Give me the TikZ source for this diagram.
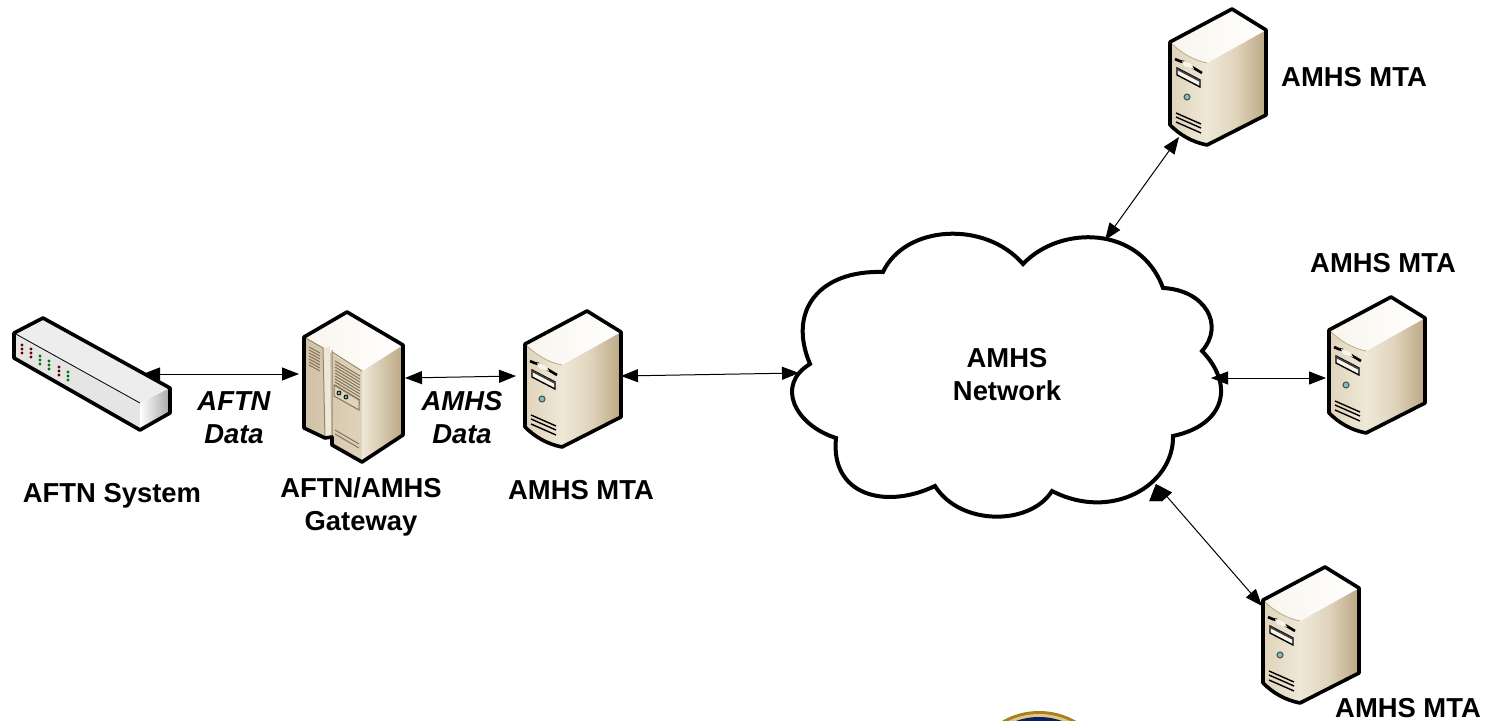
\documentclass[tikz,border=0pt]{standalone}
\usepackage{fontspec}
\setmainfont{Liberation Sans}
\usetikzlibrary{arrows.meta}
\definecolor{edgeblack}{HTML}{000000}
\definecolor{boxlight}{HTML}{F8F5EC}
\definecolor{boxpale}{HTML}{EFE8D8}
\definecolor{boxmid}{HTML}{DFD3BA}
\definecolor{boxdark}{HTML}{BBA783}
\definecolor{sealgold}{HTML}{A87F1C}
\definecolor{sealpale}{HTML}{DCC987}
\definecolor{sealnavy}{HTML}{0B1F5E}
\tikzset{
	outline/.style={line width=1.8pt,line join=round,draw=edgeblack},
	caption/.style={font=\bfseries\fontsize{13.7}{16.5}\selectfont,align=center,inner sep=0pt},
	flowlabel/.style={font=\bfseries\itshape\fontsize{13.7}{16.5}\selectfont,align=center,inner sep=0pt},
	link/.style={<->,line width=.5pt},
	mtabox/.pic={
		\path[left color=boxmid,right color=boxpale] (0,0) .. controls (10,10) and (22,18) .. (37,21) -- (37,103) .. controls (22,100) and (10,93) .. (0,83) -- cycle;
		\path[left color=boxpale,right color=boxdark,middle color=boxmid] (37,21) -- (96,-12) -- (96,73) -- (37,103) -- cycle;
		\path[left color=boxlight,right color=white] (0,0) -- (62,-33) -- (96,-12) -- (37,21) .. controls (22,18) and (10,10) .. (0,0) -- cycle;
		\draw[line width=.4pt,draw=boxdark] (0,0) .. controls (10,10) and (22,18) .. (37,21);
		\draw[line width=1.3pt] (5,17) .. controls (9,19) and (12,20) .. (14,20) (22,25) -- (32,31);
		\fill[boxlight] (12,19) -- (21,22) -- (24,27) -- (14,24) -- cycle;
		\draw[line width=.7pt,fill=boxlight] (7,26) -- (30,38) -- (30,45) -- (7,33) -- cycle;
		\fill[black!75] (7,26) -- (30,38) -- (30,40) -- (7,28) -- cycle;
		\draw[line width=.5pt,draw=black!70,fill=teal!50!white] (17,55) circle (3);
		\draw[line width=.7pt] (6,71) -- (31,82) (6,75) -- (31,86) (6,80) -- (31,91);
		\draw[outline] (0,0) -- (62,-33) -- (96,-12) -- (96,73) -- (37,103) .. controls (22,100) and (10,93) .. (0,83) -- cycle;
	},
}
\begin{document}
\begin{tikzpicture}[x=.5pt,y=-.5pt,>={Triangle[length=8.5pt,width=6.5pt]}]
	\useasboundingbox (0,0) rectangle (1486,721);

	% seal cut by the page
	\begin{scope}
		\clip (0,0) rectangle (1486,721);
		\fill[sealgold] (1039,785) circle (74);
		\fill[sealpale] (1039,785) circle (71);
		\fill[sealnavy] (1039,785) circle (68);
	\end{scope}

	% AFTN system
	\path[fill=white!93!black] (14,333) -- (43,318) -- (170,388) -- (140,403) -- cycle;
	\path[fill=white!90!black] (14,333) -- (140,403) -- (140,430) -- (14,358) -- cycle;
	\path[left color=white,right color=white!65!black] (140,403) -- (170,388) -- (170,413) -- (140,430) -- cycle;
	\draw[line width=.4pt] (14,333) -- (140,403);
	\foreach \ledx/\ledy/\ledc in {22/345/red!40!black,31/349/red!40!black,40/356/green!45!black,49/361/green!45!black,59/367/red!40!black,68/372/green!45!black}
		\foreach \ledn in {0,1,2}
			\fill[\ledc] (\ledx,\ledy+4*\ledn) circle (1.7);
	\draw[outline] (14,333) -- (43,318) -- (170,388) -- (170,413) -- (140,430) -- (14,358) -- cycle;

	% gateway
	\path[left color=boxdark!70!white,right color=boxmid] (304,337) -- (323,348) -- (362,371) -- (362,462) -- (332,445) -- (332,437) -- (325,438) -- (304,428) -- cycle;
	\path[left color=boxpale,middle color=boxmid,right color=boxdark] (362,371) -- (403,345) -- (403,435) -- (362,462) -- cycle;
	\path[left color=boxlight,right color=white] (304,337) -- (347,312) -- (403,345) -- (362,371) -- (333,354) -- (330,346) -- (323,348) -- cycle;
	\path[fill=boxpale] (323,348) -- (330,346) -- (331,437) -- (325,438) -- cycle;
	\draw[line width=.5pt,draw=boxdark!80!black] (304,337) -- (323,348) -- (325,438) (332,350) -- (332,437) (332,352) -- (362,371);
	\foreach \gridy in {0,3,...,18}
		\draw[line width=.5pt,draw=boxdark!70!black] (309,347+\gridy) -- (320,353+\gridy);
	\foreach \gridy in {0,3,...,27}
		\draw[line width=.5pt,draw=boxdark!70!black] (335,361+\gridy) -- (360,376+\gridy);
	\draw[line width=.5pt,draw=boxdark!70!black,fill=boxmid] (334,385) -- (359,400) -- (359,410) -- (334,396) -- cycle;
	\foreach \gridy in {0,4}
		\draw[line width=.5pt,draw=boxdark!70!black] (335,430+\gridy) -- (359,444+\gridy);
	\draw[line width=.4pt,fill=teal!60!white] (339,393) circle (2) (346,397) circle (2);
	\draw[outline] (304,337) -- (347,312) -- (403,345) -- (403,435) -- (362,462) -- (332,445) -- (332,437) -- (325,438) -- (304,428) -- cycle;

	% MTA boxes
	\pic (mtaA) at (525,344) {mtabox};
	\pic (mtaB) at (1170,42) {mtabox};
	\pic (mtaC) at (1329,330) {mtabox};
	\pic (mtaD) at (1263,600) {mtabox};

	% cloud
	\draw[line width=2pt,line join=miter,fill=white] (810,364)
		.. controls (787,310) and (820,270) .. (883,272)
		.. controls (905,225) and (985,220) .. (1023,264)
		.. controls (1060,225) and (1140,225) .. (1163,288)
		.. controls (1205,290) and (1225,325) .. (1202,351)
		.. controls (1235,385) and (1225,425) .. (1173,436)
		.. controls (1174,485) and (1112,522) .. (1052,491)
		.. controls (1030,526) and (960,526) .. (935,486)
		.. controls (885,510) and (830,495) .. (836,438)
		.. controls (795,425) and (775,385) .. (810,364) -- cycle;

	\node[caption] (network) at (1007,375) {AMHS\\Network};
	\node[caption] (aftnname) at (112,496) {AFTN System};
	\node[caption] (gatewayname) at (361,507) {AFTN/AMHS\\Gateway};
	\node[caption] (mtaAname) at (581,490) {AMHS MTA};
	\node[caption] (mtaBname) at (1354,77) {AMHS MTA};
	\node[caption] (mtaCname) at (1383,263) {AMHS MTA};
	\node[caption] (mtaDname) at (1408,708) {AMHS MTA};
	\node[flowlabel] (aftndata) at (234,418) {AFTN\\Data};
	\node[flowlabel] (amhsdata) at (462,418) {AMHS\\Data};

	\coordinate (aftnport) at (143,374);
	\coordinate (gatewayL) at (299,374);
	\coordinate (gatewayR) at (405,378);
	\coordinate (mtaAL) at (516,376);
	\coordinate (mtaAR) at (621,376);
	\coordinate (cloudW) at (799,373);
	\coordinate (cloudN) at (1105,240);
	\coordinate (mtaBport) at (1179,137);
	\coordinate (cloudE) at (1211,378);
	\coordinate (mtaCport) at (1326,378);
	\coordinate (cloudS) at (1156,484);
	\coordinate (mtaDport) at (1262,606);

	\path[draw,link]
		(aftnport) edge (gatewayL)
		(gatewayR) edge (mtaAL)
		(mtaAR) edge (cloudW)
		(cloudN) edge (mtaBport)
		(cloudE) edge (mtaCport)
		(cloudS) edge (mtaDport)
	;
\end{tikzpicture}
\end{document}
